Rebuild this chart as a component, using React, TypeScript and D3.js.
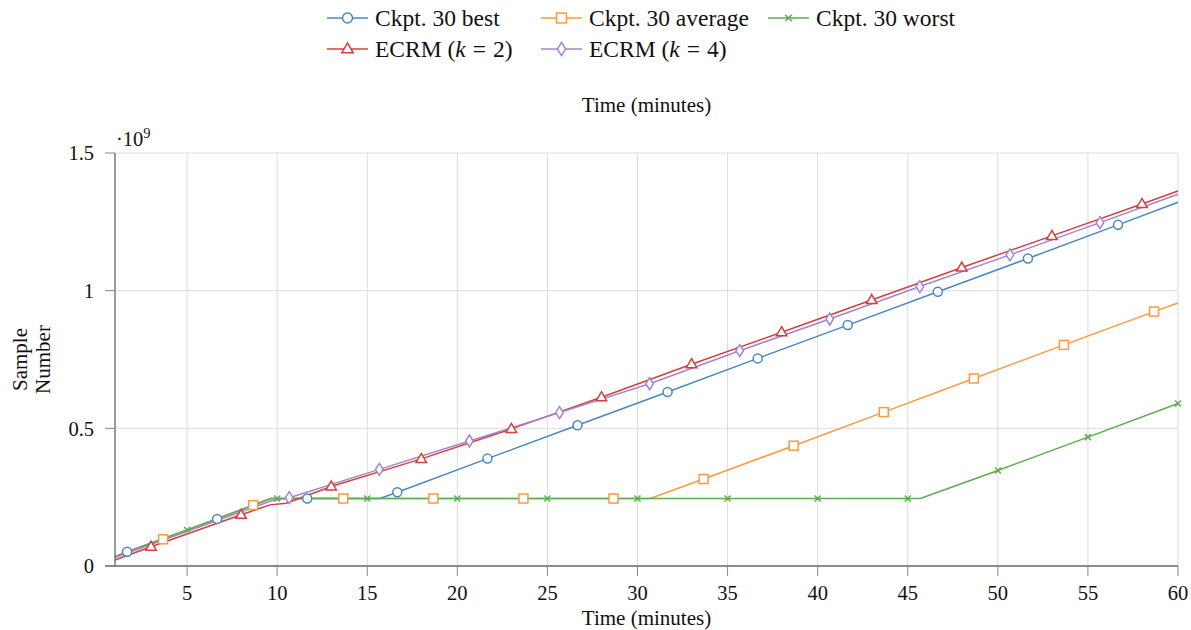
import React from "react";
import * as d3 from "d3";

// ---- data (minutes, samples in units of 1e9) ----
const xTicks = [5, 10, 15, 20, 25, 30, 35, 40, 45, 50, 55, 60];
const yTicks = [0, 0.5, 1, 1.5];
const yTickLabels = ["0", "0.5", "1", "1.5"];

const bestLine: [number, number][] = [[1, 0.034], [9.65, 0.245], [15.7, 0.245], [60, 1.321]];
const bestMarks: [number, number][] = [[1.67, 0.052], [6.67, 0.171], [11.67, 0.245], [16.67, 0.268], [21.67, 0.39], [26.67, 0.511], [31.67, 0.632], [36.67, 0.754], [41.67, 0.875], [46.67, 0.996], [51.67, 1.117], [56.67, 1.239]];

const avgLine: [number, number][] = [[1, 0.034], [9.65, 0.245], [30.7, 0.245], [60, 0.955]];
const avgMarks: [number, number][] = [[3.67, 0.097], [8.67, 0.221], [13.67, 0.245], [18.67, 0.245], [23.67, 0.245], [28.67, 0.245], [33.67, 0.316], [38.67, 0.437], [43.67, 0.559], [48.67, 0.681], [53.67, 0.803], [58.67, 0.924]];

const worstLine: [number, number][] = [[1, 0.034], [9.65, 0.245], [45.7, 0.245], [60, 0.59]];
const worstMarks: [number, number][] = [[5, 0.131], [10, 0.245], [15, 0.245], [20, 0.245], [25, 0.245], [30, 0.245], [35, 0.245], [40, 0.245], [45, 0.245], [50, 0.347], [55, 0.468], [60, 0.59]];

const ecrm2Line: [number, number][] = [[1, 0.022], [9.6, 0.222], [10.5, 0.228], [60, 1.362]];
const ecrm2Marks: [number, number][] = [[3, 0.07], [8, 0.186], [13, 0.289], [18, 0.389], [23, 0.498], [28, 0.613], [33, 0.733], [38, 0.849], [43, 0.966], [48, 1.084], [53, 1.199], [58, 1.315]];

const ecrm4Line: [number, number][] = [[1, 0.031], [9.7, 0.237], [60, 1.35]];
const ecrm4Marks: [number, number][] = [[10.67, 0.248], [15.67, 0.351], [20.67, 0.454], [25.67, 0.557], [30.67, 0.662], [35.67, 0.782], [40.67, 0.897], [45.67, 1.015], [50.67, 1.13], [55.67, 1.247]];

type Mk = "circle" | "square" | "x" | "triangle" | "diamond";
const series = [
  { name: "best", line: bestLine, marks: bestMarks, color: "#4a88c2", mark: "circle" as Mk },
  { name: "avg", line: avgLine, marks: avgMarks, color: "#fa9a3e", mark: "square" as Mk },
  { name: "worst", line: worstLine, marks: worstMarks, color: "#5bae4f", mark: "x" as Mk },
  { name: "ecrm2", line: ecrm2Line, marks: ecrm2Marks, color: "#d43f3d", mark: "triangle" as Mk },
  { name: "ecrm4", line: ecrm4Line, marks: ecrm4Marks, color: "#a386cf", mark: "diamond" as Mk },
];

const FONT = "'Liberation Serif', 'Times New Roman', serif";

function Marker({ kind, x, y, color, s = 1 }: { kind: Mk; x: number; y: number; color: string; s?: number }) {
  const sw = 1.5;
  if (kind === "circle") return <circle cx={x} cy={y} r={4.5 * s} fill="white" stroke={color} strokeWidth={sw} />;
  if (kind === "square") return <rect x={x - 4.5 * s} y={y - 4.5 * s} width={9 * s} height={9 * s} fill="white" stroke={color} strokeWidth={sw} />;
  if (kind === "triangle")
    return <path d={`M${x},${y - 5.5 * s}L${x + 5.2 * s},${y + 3.5 * s}L${x - 5.2 * s},${y + 3.5 * s}Z`} fill="white" stroke={color} strokeWidth={sw} />;
  if (kind === "diamond")
    return <path d={`M${x},${y - 6 * s}L${x + 3.8 * s},${y}L${x},${y + 6 * s}L${x - 3.8 * s},${y}Z`} fill="white" stroke={color} strokeWidth={sw} />;
  return <path d={`M${x - 3 * s},${y - 3 * s}L${x + 3 * s},${y + 3 * s}M${x - 3 * s},${y + 3 * s}L${x + 3 * s},${y - 3 * s}`} stroke={color} strokeWidth={sw} />;
}

export default function App() {
  const W = 1191, H = 630;
  const x = d3.scaleLinear().domain([1, 60]).range([115, 1178]);
  const y = d3.scaleLinear().domain([0, 1.5]).range([566, 153]);
  const line = d3.line<[number, number]>().x((d) => x(d[0])).y((d) => y(d[1]));

  const SL = 41;
  const ecrmLabel = (k: string) => (
    <>
      ECRM (<tspan fontStyle="italic">k</tspan>
      <tspan dx={7}>=</tspan>
      <tspan dx={7}>{k})</tspan>
    </>
  );
  const legend = [
    { s: series[0], lx: 327, ly: 18, label: <>Ckpt. 30 best</> },
    { s: series[1], lx: 541, ly: 18, label: <>Ckpt. 30 average</> },
    { s: series[2], lx: 768, ly: 18, label: <>Ckpt. 30 worst</> },
    { s: series[3], lx: 327, ly: 49, label: ecrmLabel("2") },
    { s: series[4], lx: 541, ly: 49, label: ecrmLabel("4") },
  ];

  const [x0, x1] = x.range();
  const [y0, y1] = y.range();

  return (
    <svg width={W} height={H} style={{ position: "absolute", left: 0, top: 0 }} fontFamily={FONT}>
      <rect width={W} height={H} fill="white" />
      {/* grid */}
      {xTicks.map((t) => (
        <line key={"gx" + t} x1={x(t)} x2={x(t)} y1={y1} y2={y0} stroke="#dcdcdc" strokeWidth={1} />
      ))}
      {yTicks.slice(1).map((t) => (
        <line key={"gy" + t} x1={x0} x2={x1} y1={y(t)} y2={y(t)} stroke="#dcdcdc" strokeWidth={1} />
      ))}
      {/* series */}
      {series.map((s) => {
        const pts = [...s.line, ...s.marks].sort((a, b) => a[0] - b[0]);
        return <path key={s.name} d={line(pts) || ""} fill="none" stroke={s.color} strokeWidth={1.5} strokeLinejoin="round" />;
      })}
      {series.map((s) =>
        s.marks.map((m, i) => <Marker key={s.name + i} kind={s.mark} x={x(m[0])} y={y(m[1])} color={s.color} />)
      )}
      {/* axes */}
      <line x1={x0} x2={x0} y1={y1} y2={y0} stroke="#666" strokeWidth={1.3} />
      <line x1={x0 - 10} x2={x1} y1={y0} y2={y0} stroke="#666" strokeWidth={1.3} />
      {yTicks.map((t) => (
        <line key={"ty" + t} x1={x0 - 10} x2={x0} y1={y(t)} y2={y(t)} stroke="#888" strokeWidth={1} />
      ))}
      {xTicks.map((t) => (
        <line key={"tx" + t} x1={x(t)} x2={x(t)} y1={y0} y2={y0 + 10} stroke="#888" strokeWidth={1} />
      ))}
      {yTicks.map((t, i) => (
        <text key={"ly" + t} x={94} y={y(t)} dy="0.35em" textAnchor="end" fontSize={20.5} fill="#111">
          {yTickLabels[i]}
        </text>
      ))}
      {xTicks.map((t) => (
        <text key={"lx" + t} x={x(t)} y={600} textAnchor="middle" fontSize={20.5} fill="#111">
          {t}
        </text>
      ))}
      <text x={116} y={146} fontSize={20.5} fill="#111">
        ·10<tspan fontSize={14.5} dy={-8}>9</tspan>
      </text>
      {/* axis labels */}
      <text x={(x0 + x1) / 2} y={625} textAnchor="middle" fontSize={21} fill="#111">Time (minutes)</text>
      <text x={(x0 + x1) / 2} y={112} textAnchor="middle" fontSize={21} fill="#111">Time (minutes)</text>
      <text transform={`translate(27,${(y0 + y1) / 2}) rotate(-90)`} textAnchor="middle" fontSize={21} fill="#111">Sample</text>
      <text transform={`translate(50,${(y0 + y1) / 2}) rotate(-90)`} textAnchor="middle" fontSize={21} fill="#111">Number</text>
      {/* legend */}
      {legend.map((l, i) => (
        <g key={"leg" + i}>
          <line x1={l.lx} x2={l.lx + SL} y1={l.ly} y2={l.ly} stroke={l.s.color} strokeWidth={1.6} />
          <Marker kind={l.s.mark} x={l.lx + SL / 2} y={l.ly} color={l.s.color} s={1.1} />
          <text x={l.lx + SL + 7} y={l.ly + 8} fontSize={23.5} fill="#111">{l.label}</text>
        </g>
      ))}
    </svg>
  );
}
